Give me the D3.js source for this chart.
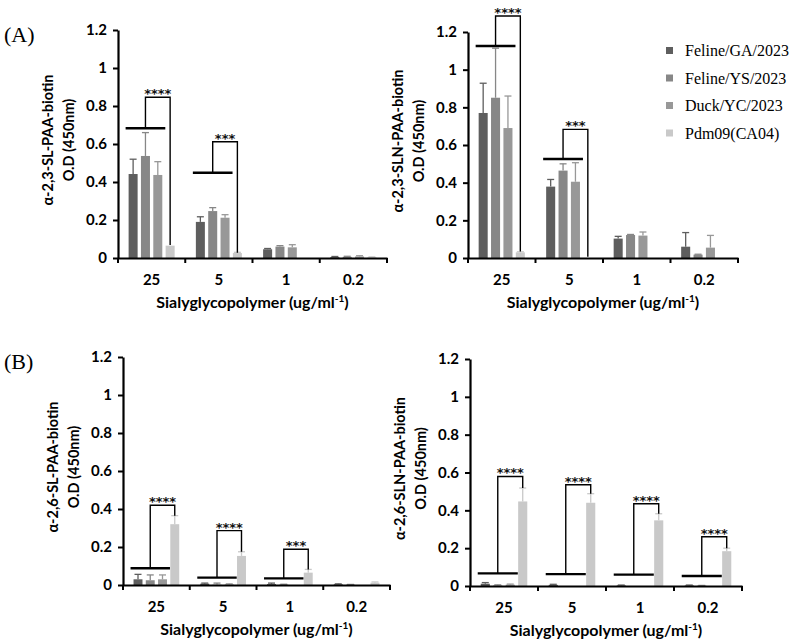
<!DOCTYPE html>
<html>
<head>
<meta charset="utf-8">
<script src="https://cdn.jsdelivr.net/npm/d3@7"></script>
<style>
  body { margin: 0; background: #fff; }
  svg { display: block; }
</style>
</head>
<body>
<script>
// groups on x axis and the four viruses
let groups = ["25", "5", "1", "0.2"]
let series = ["Feline/GA/2023", "Feline/YS/2023", "Duck/YC/2023", "Pdm09(CA04)"]
let colors = ["#5e5e5e", "#878787", "#989898", "#c9c9c9"]
let yTicks = [0, 0.2, 0.4, 0.6, 0.8, 1, 1.2]

// means per group (rows) and series (columns)
let sl23Mean = [[0.442, 0.537, 0.437, 0.065], [0.19, 0.247, 0.212, 0.026], [0.046, 0.06, 0.056, 0], [0.005, 0.006, 0.008, 0.004]]
let sl23Sd   = [[0.078, 0.123, 0.07, 0], [0.027, 0.018, 0.016, 0.004], [0.004, 0.005, 0.014, 0], [0.003, 0.003, 0.004, 0.002]]
let sln23Mean = [[0.77, 0.851, 0.69, 0.03], [0.379, 0.464, 0.405, 0], [0.103, 0.122, 0.119, 0], [0.06, 0.018, 0.055, 0]]
let sln23Sd   = [[0.158, 0.263, 0.17, 0.003], [0.038, 0.036, 0.101, 0], [0.012, 0.003, 0.019, 0], [0.075, 0.002, 0.065, 0]]
let sl26Mean = [[0.03, 0.025, 0.03, 0.32], [0.007, 0.002, 0.003, 0.153], [0.005, 0.002, 0, 0.065], [0.004, 0.002, 0, 0.012]]
let sl26Sd   = [[0.026, 0.028, 0.023, 0.045], [0.003, 0.008, 0.003, 0.022], [0.005, 0.002, 0, 0.017], [0.002, 0.001, 0, 0.004]]
let sln26Mean = [[0.012, 0.003, 0.007, 0.447], [0.006, 0, 0, 0.44], [0.003, 0, 0, 0.347], [0.003, 0.002, 0, 0.184]]
let sln26Sd   = [[0.006, 0.003, 0.003, 0.071], [0.003, 0, 0, 0.048], [0.002, 0, 0, 0.035], [0.002, 0.001, 0, 0.016]]

// significance brackets: group, base line, bracket top, drop-to value, label
let sl23Sig = [["25", 0.683, 0.846, 0.068, "****"], ["5", 0.449, 0.612, 0.028, "***"]]
let sln23Sig = [["25", 1.126, 1.285, 0.035, "****"], ["5", 0.526, 0.683, 0.007, "***"]]
let sl26Sig = [["25", 0.088, 0.42, 0.365, "****"], ["5", 0.039, 0.286, 0.175, "****"], ["1", 0.035, 0.188, 0.082, "***"]]
let sln26Sig = [["25", 0.067, 0.579, 0.518, "****"], ["5", 0.063, 0.535, 0.488, "****"], ["1", 0.06, 0.435, 0.382, "****"], ["0.2", 0.053, 0.26, 0.2, "****"]]

let panels = [
  {mean: sl23Mean, sd: sl23Sd, sig: sl23Sig, title: "α-2,3-SL-PAA-biotin", x0: 118, x1: 387, top: 30, bot: 258, tag: "(A)"},
  {mean: sln23Mean, sd: sln23Sd, sig: sln23Sig, title: "α-2,3-SLN-PAA-biotin", x0: 468, x1: 738, top: 32, bot: 258},
  {mean: sl26Mean, sd: sl26Sd, sig: sl26Sig, title: "α-2,6-SL-PAA-biotin", x0: 123, x1: 390, top: 357, bot: 585, tag: "(B)"},
  {mean: sln26Mean, sd: sln26Sd, sig: sln26Sig, title: "α-2,6-SLN-PAA-biotin", x0: 470, x1: 742, top: 359, bot: 586}
]

let font = "Lato, 'Open Sans', sans-serif"

let svg = d3.select("body")
            .append("svg")
            .attr("width", 800)
            .attr("height", 640)

svg.append("rect").attr("width", 800).attr("height", 640).attr("fill", "#fff")

let drawPanel = (p) => {
    let g = svg.append("g")

    let xScale = d3.scaleBand()
                   .domain(groups)
                   .range([p.x0, p.x1])
    let inner = d3.scaleBand()
                  .domain(d3.range(series.length))
                  .range([0, xScale.bandwidth()])
                  .paddingInner(0.27)
                  .paddingOuter(0.86)
    let yScale = d3.scaleLinear()
                   .domain([0, 1.2])
                   .range([p.bot, p.top])

    // bars
    groups.forEach((grp, gi) => {
        let row = p.mean[gi]
        g.selectAll(null)
         .data(row)
         .enter()
         .append("rect")
         .attr("x", (d, i) => xScale(grp) + inner(i))
         .attr("y", (d) => yScale(d))
         .attr("width", inner.bandwidth())
         .attr("height", (d) => yScale(0) - yScale(d))
         .attr("fill", (d, i) => colors[i])

        // upper error whiskers
        row.forEach((m, i) => {
            let s = p.sd[gi][i]
            if (s <= 0) return
            let cx = xScale(grp) + inner(i) + inner.bandwidth() / 2
            g.append("line")
             .attr("x1", cx).attr("x2", cx)
             .attr("y1", yScale(m)).attr("y2", yScale(m + s))
             .attr("stroke", colors[i]).attr("stroke-width", 1.3)
            g.append("line")
             .attr("x1", cx - 3.5).attr("x2", cx + 3.5)
             .attr("y1", yScale(m + s)).attr("y2", yScale(m + s))
             .attr("stroke", colors[i]).attr("stroke-width", 1.3)
        })
    })

    // axes
    let yAxis = d3.axisLeft(yScale)
                  .tickValues(yTicks)
                  .tickFormat(d3.format("~g"))
                  .tickSize(5)
                  .tickSizeOuter(0)
                  .tickPadding(6)
    g.append("g")
     .attr("transform", "translate(" + p.x0 + ",0)")
     .call(yAxis)

    let xAxis = d3.axisBottom(xScale)
                  .tickSize(0)
                  .tickSizeOuter(0)
                  .tickPadding(16)
    g.append("g")
     .attr("transform", "translate(0," + p.bot + ")")
     .call(xAxis)

    // ticks between groups
    let edges = groups.map(grp => xScale(grp)).concat([p.x1])
    g.selectAll(null)
     .data(edges)
     .enter()
     .append("line")
     .attr("x1", d => d).attr("x2", d => d)
     .attr("y1", p.bot).attr("y2", p.bot + 5)
     .attr("stroke", "#000").attr("stroke-width", 2)

    g.selectAll(".domain").attr("stroke", "#000").attr("stroke-width", 2.2)
    g.selectAll(".tick line").attr("stroke", "#000").attr("stroke-width", 2)
    g.selectAll(".tick text")
     .attr("fill", "#000")
     .style("font-family", font)
     .style("font-weight", "bold")
     .style("font-size", "15px")

    // axis titles
    g.append("text")
     .attr("x", (p.x0 + p.x1) / 2)
     .attr("y", p.bot + 50)
     .attr("text-anchor", "middle")
     .style("font-family", font).style("font-weight", "bold").style("font-size", "16px")
     .text("Sialyglycopolymer (ug/ml")
     .append("tspan")
     .attr("dy", -6).style("font-size", "10px").text("-1")
     .append("tspan")
     .attr("dy", 6).style("font-size", "16px").text(")")

    let cy = (p.top + p.bot) / 2 - 4
    let yt = g.append("text")
              .attr("transform", "translate(" + (p.x0 - 65) + "," + cy + ") rotate(-90)")
              .attr("text-anchor", "middle")
              .style("font-family", font).style("font-weight", "bold").style("font-size", "14.5px")
    yt.append("tspan").attr("x", 0).attr("dy", 0).text(p.title)
    yt.append("tspan").attr("x", 0).attr("dy", 21).text("O.D (450nm)")

    if (p.tag) {
        svg.append("text")
           .attr("x", 4)
           .attr("y", p.top + 12)
           .style("font-family", "'Liberation Serif', 'Times New Roman', serif")
           .style("font-size", "22px")
           .text(p.tag)
    }

    // significance brackets
    p.sig.forEach(s => {
        let grp = s[0]
        let left = xScale(grp) + inner(0) - 3
        let right = xScale(grp) + inner(2) + inner.bandwidth() + 3
        let mid = xScale(grp) + inner(1) + inner.bandwidth() / 2
        let end = xScale(grp) + inner(3) + inner.bandwidth() / 2
        g.append("line")
         .attr("x1", left).attr("x2", right)
         .attr("y1", yScale(s[1])).attr("y2", yScale(s[1]))
         .attr("stroke", "#000").attr("stroke-width", 2.4)
        g.append("path")
         .attr("d", d3.line()([[mid, yScale(s[1])], [mid, yScale(s[2])], [end, yScale(s[2])], [end, yScale(s[3])]]))
         .attr("fill", "none")
         .attr("stroke", "#000").attr("stroke-width", 1.4)
        g.append("text")
         .attr("x", (mid + end) / 2)
         .attr("y", yScale(s[2]) + 1)
         .attr("text-anchor", "middle")
         .attr("fill", "#111")
         .style("font-family", "'DejaVu Sans', sans-serif").style("font-weight", "bold").style("font-size", "13px")
         .text(s[4])
    })
}

panels.forEach(drawPanel)

// legend
let legend = svg.append("g")
series.forEach((name, i) => {
    legend.append("rect")
          .attr("x", 666).attr("y", 47 + i * 27.5)
          .attr("width", 7).attr("height", 7)
          .attr("fill", colors[i])
    legend.append("text")
          .attr("x", 685).attr("y", 56 + i * 27.5)
          .style("font-family", "'Liberation Serif', 'Times New Roman', serif")
          .style("font-size", "16px")
          .text(name)
})
</script>
</body>
</html>
